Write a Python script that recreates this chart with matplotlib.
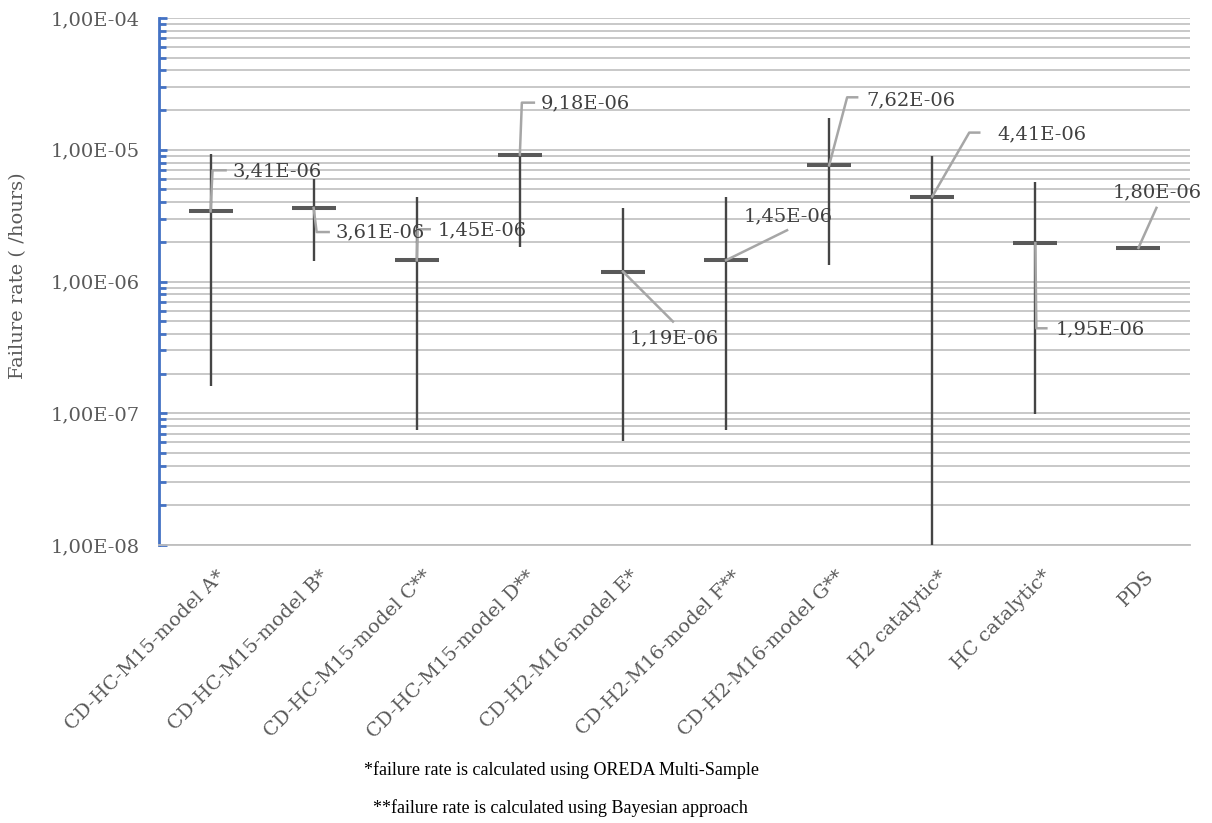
import numpy as np
import matplotlib
matplotlib.use("Agg")
import matplotlib.pyplot as plt
from matplotlib.lines import Line2D
from matplotlib.transforms import IdentityTransform, ScaledTranslation

# ---- data -------------------------------------------------------------
categories = [
    "CD-HC-M15-model A*", "CD-HC-M15-model B*", "CD-HC-M15-model C**",
    "CD-HC-M15-model D**", "CD-H2-M16-model E*", "CD-H2-M16-model F**",
    "CD-H2-M16-model G**", "H2 catalytic*", "HC catalytic*", "PDS",
]
mean_rate = [3.41e-6, 3.61e-6, 1.45e-6, 9.18e-6, 1.19e-6,
             1.45e-6, 7.62e-6, 4.41e-6, 1.95e-6, 1.80e-6]
upper_rate = [9.3e-6, 6.0e-6, 4.4e-6, 9.18e-6, 3.6e-6,
              4.4e-6, 1.73e-5, 8.9e-6, 5.7e-6, 1.80e-6]
lower_rate = [1.6e-7, 1.43e-6, 7.5e-8, 1.84e-6, 6.15e-8,
              7.5e-8, 1.33e-6, 5.0e-9, 9.8e-8, 1.80e-6]
value_labels = ["3,41E-06", "3,61E-06", "1,45E-06", "9,18E-06", "1,19E-06",
                "1,45E-06", "7,62E-06", "4,41E-06", "1,95E-06", "1,80E-06"]
y_ticks = [1e-8, 1e-7, 1e-6, 1e-5, 1e-4]
y_tick_labels = ["1,00E-08", "1,00E-07", "1,00E-06", "1,00E-05", "1,00E-04"]
footnotes = ["*failure rate is calculated using OREDA Multi-Sample",
             "**failure rate is calculated using Bayesian approach"]

# leader paths (pixel offsets from the marker, y downward) and text anchor
label_layout = [
    ([(0, 0), (2, -41), (15, -41)], (22, -40)),
    ([(0, 0), (3, 24), (15, 24)], (22, 24)),
    ([(0, 0), (1, -31), (13, -31)], (21, -30)),
    ([(0, 0), (2, -52), (14, -52)], (21, -51)),
    ([(0, 0), (50, 50)], (7, 67)),
    ([(0, 0), (61, -30)], (18, -44)),
    ([(0, 0), (18, -68), (28, -68)], (37, -65)),
    ([(0, 0), (37, -64), (47, -64)], (65, -62)),
    ([(0, 0), (1, 85), (11, 85)], (20, 86)),
    ([(0, 0), (18, -40)], (-26, -56)),
]

# ---- figure -----------------------------------------------------------
W, H = 1212, 823
fig = plt.figure(figsize=(W / 100, H / 100), dpi=100)
ax = fig.add_axes([159 / W, 1 - 545 / H, (1190 - 159) / W, (545 - 18) / H])

serif = ["DejaVu Serif"]
txt_gray = "#595959"
fs = 14

ax.set_yscale("log")
ax.set_ylim(1e-8, 1e-4)
ax.set_xlim(-0.5, len(categories) - 0.5)

# log grid, majors and minors
ax.yaxis.grid(True, which="both", color="#C4C4C4", lw=1.3)
ax.set_axisbelow(True)

x = np.arange(len(categories))
lo = np.array(lower_rate)
hi = np.array(upper_rate)
mu = np.array(mean_rate)

# vertical range bars
ax.vlines(x, lo, hi, color="#454545", lw=1.7, zorder=3)
# mean markers
ax.plot(x, mu, ls="none", marker="_", ms=31, mew=2.9, color="#595959",
        zorder=4)

# spines and ticks
for s in ["top", "right"]:
    ax.spines[s].set_visible(False)
ax.spines["left"].set_color("#4472C4")
ax.spines["left"].set_linewidth(2)
ax.spines["bottom"].set_color("#BFBFBF")
ax.spines["bottom"].set_linewidth(1.3)

ax.set_yticks(y_ticks)
ax.set_yticklabels(y_tick_labels)
ax.tick_params(axis="y", which="major", direction="in", length=6,
               width=2, color="#4472C4", labelsize=fs,
               labelcolor=txt_gray, pad=14)
ax.tick_params(axis="y", which="minor", direction="in", length=5,
               width=2, color="#4472C4", labelleft=False)
for lab in ax.get_yticklabels():
    lab.set_fontfamily(serif)

ax.set_xticks(x)
ax.set_xticklabels(categories, rotation=45, ha="right",
                   rotation_mode="anchor", fontsize=fs, color=txt_gray,
                   family=serif)
ax.tick_params(axis="x", length=0, pad=16)
shift = ScaledTranslation(6 / 100, 0, fig.dpi_scale_trans)
for lab in ax.get_xticklabels():
    lab.set_transform(lab.get_transform() + shift)

ax.set_ylabel("Failure rate ( /hours)", fontsize=fs, color=txt_gray,
              family=serif)
ax.yaxis.set_label_coords(-(159 - 27) / (1190 - 159), 1 - (276 - 18) / 527)

# data labels with leader lines
for i, (path, (tx, ty)) in enumerate(label_layout):
    px, py = ax.transData.transform((x[i], mu[i]))
    xs = [px + dx for dx, dy in path]
    ys = [py - dy for dx, dy in path]
    fig.add_artist(Line2D(xs, ys, transform=IdentityTransform(),
                          color="#A6A6A6", lw=1.8, zorder=5))
    fig.text((px + tx) / W, (py - ty) / H, value_labels[i],
             ha="left", va="center", fontsize=fs, color="#404040",
             family=serif, zorder=6)

# footnotes
fig.text(562 / W, 1 - 770 / H, footnotes[0], ha="center", va="center",
         fontsize=13, family=["Liberation Serif"], color="black")
fig.text(560 / W, 1 - 808 / H, footnotes[1], ha="center", va="center",
         fontsize=13, family=["Liberation Serif"], color="black")

fig.savefig("out.png", dpi=100)
